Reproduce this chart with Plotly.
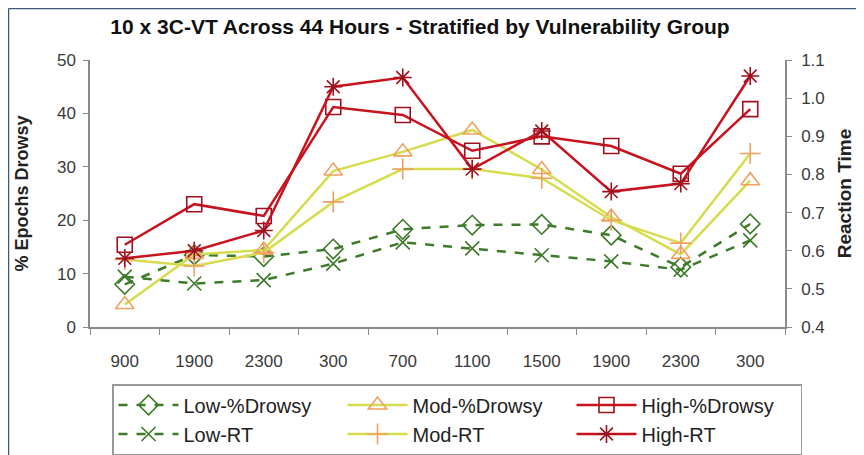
import plotly.graph_objects as go

hours = ["900", "1900", "2300", "300", "700", "1100", "1500", "1900", "2300", "300"]

low_drowsy = [8.0, 13.5, 13.2, 14.6, 18.3, 19.1, 19.2, 17.2, 11.2, 19.3]
mod_drowsy = [4.2, 13.6, 14.4, 29.2, 32.8, 36.9, 29.5, 20.6, 13.6, 27.4]
high_drowsy = [15.4, 23.0, 20.8, 41.2, 39.7, 33.0, 35.7, 33.9, 28.7, 40.8]

low_rt = [0.532, 0.514, 0.523, 0.566, 0.622, 0.606, 0.588, 0.572, 0.550, 0.627]
mod_rt = [0.577, 0.560, 0.595, 0.728, 0.814, 0.814, 0.790, 0.680, 0.620, 0.855]
high_rt = [0.580, 0.600, 0.653, 1.030, 1.054, 0.814, 0.914, 0.755, 0.776, 1.058]

xs = list(range(len(hours)))

GREEN = "#3d7a2a"
YEL = "#d6dc4e"
ORANGE = "#f0a060"
RED = "#c8121e"
DRED = "#a0101e"

fig = go.Figure()

def add(name, y, line_color, dash, sym, mcolor, size, axis):
    fig.add_trace(go.Scatter(
        x=xs, y=y, name=name, mode="lines+markers", yaxis=axis,
        line=dict(color=line_color, width=2.5, dash=dash),
        marker=dict(symbol=sym, size=size, color=mcolor,
                    line=dict(color=mcolor, width=1.6)),
    ))

add("Low-%Drowsy", low_drowsy, GREEN, "dash", "diamond-open", GREEN, 15, "y")
add("Mod-%Drowsy", mod_drowsy, YEL, "solid", "triangle-up-open", ORANGE, 16, "y")
add("High-%Drowsy", high_drowsy, RED, "solid", "square-open", DRED, 15, "y")
add("Low-RT", low_rt, GREEN, "dash", "x-thin-open", GREEN, 14, "y2")
add("Mod-RT", mod_rt, YEL, "solid", "cross-thin-open", ORANGE, 15, "y2")
add("High-RT", high_rt, RED, "solid", "asterisk-open", DRED, 15, "y2")

AX = "#8a8a8a"
FAM = "Liberation Sans, Arial, sans-serif"
TICKFONT = dict(family=FAM, size=17, color="#3a3a3a")

# page body has an 8px margin, so the figure is laid out 8px up/left of screen coordinates
W, H = 856, 447
L, T, R, B = 82, 52, 79, 128
PH = H - T - B  # plot height in px

def py(screen_y):
    return (H - B - (screen_y - 8)) / PH

def px(screen_x):
    return ((screen_x - 8) - L) / (W - L - R)

fig.update_layout(
    width=W, height=H,
    margin=dict(l=L, r=R, t=T, b=B, autoexpand=False),
    paper_bgcolor="white", plot_bgcolor="white",
    title=dict(text="<b>10 x 3C-VT Across 44 Hours - Stratified by Vulnerability Group</b>",
               x=(420 - 8) / W, xanchor="center", y=1 - (27 - 8) / H, yanchor="middle",
               font=dict(family=FAM, size=21, color="#111111")),
    xaxis=dict(range=[-0.5, 9.5], tickvals=xs, ticktext=hours, ticks="",
               showgrid=False, zeroline=False, showline=True, linecolor=AX, linewidth=1.5,
               tickfont=TICKFONT, ticklabelstandoff=18, automargin=False,
               minor=dict(tick0=-0.5, dtick=1, ticks="outside", ticklen=6,
                          tickcolor=AX, tickwidth=1.2, showgrid=False)),
    yaxis=dict(range=[0, 50], dtick=10, ticks="outside", ticklen=5, tickcolor=AX,
               showgrid=False, zeroline=False, showline=True, linecolor=AX, linewidth=1.5,
               tickfont=TICKFONT, ticklabelstandoff=4, automargin=False,
               title=dict(text="<b>% Epochs Drowsy</b>",
                          font=dict(family=FAM, size=18, color="#222222"), standoff=24)),
    yaxis2=dict(range=[0.4, 1.1], dtick=0.1, tickformat=".1f", overlaying="y", side="right",
                ticks="outside", ticklen=5, tickcolor=AX, automargin=False,
                showgrid=False, zeroline=False, showline=True, linecolor=AX, linewidth=1.5,
                tickfont=TICKFONT, ticklabelstandoff=6,
                title=dict(text="<b>Reaction Time</b>",
                           font=dict(family=FAM, size=19, color="#222222"), standoff=14)),
    legend=dict(orientation="h", x=px(112), xanchor="left",
                y=py(384), yanchor="top",
                bordercolor="#9a9a9a", borderwidth=1.5, bgcolor="white",
                font=dict(family=FAM, size=20, color="#222222"),
                entrywidth=154, entrywidthmode="pixels", itemwidth=60),
    showlegend=True,
)

fx0 = px(8.5)
fx1 = px(870)
fy_top = py(8.5)
fy_bot = py(470)
fig.add_shape(type="line", xref="paper", yref="paper", x0=fx0, x1=fx1, y0=fy_top, y1=fy_top,
              line=dict(color="#3c5a78", width=1.5))
fig.add_shape(type="line", xref="paper", yref="paper", x0=fx0, x1=fx0, y0=fy_top, y1=fy_bot,
              line=dict(color="#3c5a78", width=1.5))

fig.write_html("out.html")
